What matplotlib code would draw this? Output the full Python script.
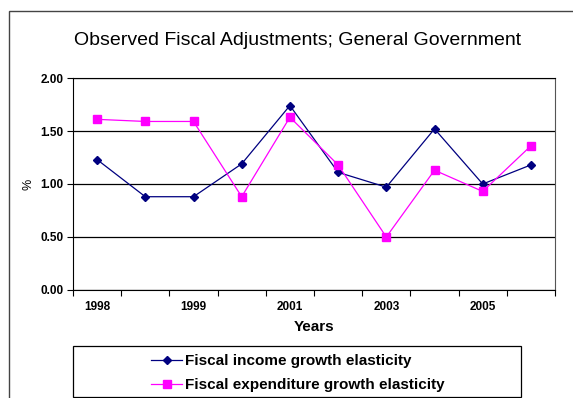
import matplotlib.pyplot as plt
from matplotlib.patches import Rectangle

plt.rcParams['font.family'] = ['Liberation Sans', 'DejaVu Sans']

# Data
years = ['1998', '', '1999', '', '2001', '', '2003', '', '2005', '']
income_elasticity = [1.23, 0.88, 0.88, 1.19, 1.74, 1.11, 0.97, 1.52, 1.00, 1.18]
expenditure_elasticity = [1.61, 1.59, 1.59, 0.88, 1.63, 1.18, 0.50, 1.13, 0.93, 1.36]

fig = plt.figure(figsize=(5.73, 3.98), dpi=100)
ax = fig.add_axes([0.1274, 0.2714, 0.8412, 0.5326])

# outer chart frame
fig.patches.append(Rectangle((0.015, -0.02), 1.2, 0.992, transform=fig.transFigure,
                             fill=False, edgecolor='#444444', linewidth=1.0))

x = list(range(len(years)))
ax.plot(x, income_elasticity, color='#000080', linewidth=0.9, marker='D',
        markersize=4.5, label='Fiscal income growth elasticity')
ax.plot(x, expenditure_elasticity, color='#FF00FF', linewidth=0.9, marker='s',
        markersize=5.5, label='Fiscal expenditure growth elasticity')

ax.set_xlim(-0.5, len(years) - 0.5)
ax.set_ylim(0, 2.0)
ax.set_yticks([0, 0.5, 1.0, 1.5, 2.0])
ax.set_yticklabels(['%.2f' % v for v in [0, 0.5, 1.0, 1.5, 2.0]],
                   fontsize=8.5, fontweight='bold')
ax.yaxis.grid(True, color='black', linewidth=0.9)
ax.set_axisbelow(True)

# category boundary ticks, labels centred on categories
ax.set_xticks([i - 0.5 for i in range(len(years) + 1)])
ax.set_xticklabels([])
ax.set_xticks(x, minor=True)
ax.set_xticklabels(years, minor=True, fontsize=8.5, fontweight='bold')
ax.tick_params(axis='x', which='minor', length=0, pad=8)
ax.tick_params(axis='x', which='major', length=4, width=0.8, direction='out')
ax.tick_params(axis='y', length=4, width=0.8, direction='out', pad=3)

for side in ['left', 'bottom', 'top']:
    ax.spines[side].set_color('black')
ax.spines['right'].set_color('#555555')

ax.set_xlabel('Years', fontsize=11, fontweight='bold', labelpad=5)
ax.set_ylabel('%', fontsize=9)
fig.text(0.52, 0.897, 'Observed Fiscal Adjustments; General Government',
         ha='center', va='center', fontsize=14)

# legend box
fig.patches.append(Rectangle((0.127, 0.003), 0.782, 0.128, transform=fig.transFigure,
                             fill=False, edgecolor='black', linewidth=0.9))
fig.legend(loc='center', bbox_to_anchor=(0.52, 0.062), frameon=False,
           prop={'size': 11, 'weight': 'bold'}, handlelength=2.0,
           handletextpad=0.2, labelspacing=0.65)

fig.savefig('out.png', dpi=100)
